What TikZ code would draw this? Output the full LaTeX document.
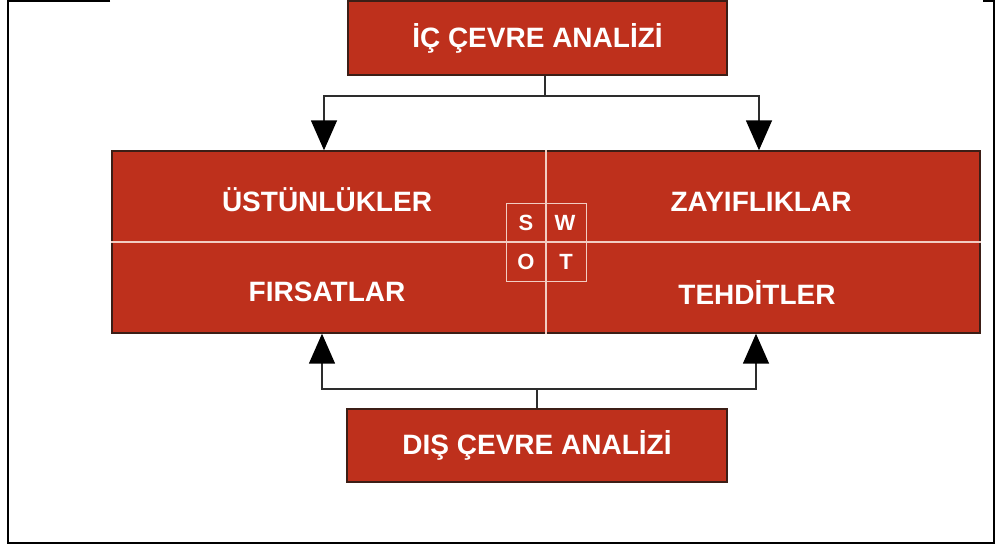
\documentclass[tikz,border=0pt]{standalone}
\usepackage{fontspec}
\setmainfont{Liberation Sans}
\usetikzlibrary{arrows.meta}
\definecolor{boxred}{RGB}{190,48,28}
\definecolor{boxedge}{RGB}{60,30,22}
\definecolor{divline}{RGB}{242,205,195}
\definecolor{connline}{RGB}{45,45,45}
\tikzset{
  redbox/.style={draw=boxedge, line width=1.4pt, fill=boxred, inner sep=0pt},
  label/.style={text=white, font=\fontsize{28}{28}\selectfont\bfseries, inner sep=0pt},
  letter/.style={text=white, font=\fontsize{22}{22}\selectfont\bfseries, inner sep=0pt},
  divider/.style={draw=divline, line width=1.6pt},
  conn/.style={draw=connline, line width=1.5pt},
  tip/.style={-{Triangle[width=26pt,length=30pt,color=black]}, line join=miter},
  frameline/.style={draw=black, line width=2pt}
}
\begin{document}
\begin{tikzpicture}[x=1pt,y=-1pt]
  \useasboundingbox (0,0) rectangle (997,544);

  % outer frame
  \draw[frameline] (110,1) -- (8,1) -- (8,543) -- (994,543) -- (994,1) -- (983,1);

  % analysis boxes
  \node[redbox, minimum width=379pt, minimum height=74pt] (ic) at (537.5,38) {};
  \node[label] at (ic.center) {İÇ ÇEVRE ANALİZİ};
  \node[redbox, minimum width=380pt, minimum height=73pt] (dis) at (537,445.5) {};
  \node[label] at (dis.center) {DIŞ ÇEVRE ANALİZİ};

  % SWOT matrix
  \node[redbox, minimum width=868pt, minimum height=182pt] (swot) at (546,242) {};
  \draw[divider] (swot.west) -- (swot.east);
  \draw[divider] (swot.north) -- (swot.south);
  \node[draw=divline, line width=1pt, minimum width=80pt, minimum height=78pt] (core) at (swot.center) {};

  \node[label] (s) at (327,200) {ÜSTÜNLÜKLER};
  \node[label] (w) at (761,202) {ZAYIFLIKLAR};
  \node[label] (o) at (327,292) {FIRSATLAR};
  \node[label] (t) at (757,293) {TEHDİTLER};

  \node[letter] (ls) at (526,223) {S};
  \node[letter] (lw) at (565,223) {W};
  \node[letter] (lo) at (526,262) {O};
  \node[letter] (lt) at (566,262) {T};

  % connectors from the internal analysis
  \coordinate (ijoin) at (545,96);
  \coordinate (ileft) at (324,96);
  \coordinate (iright) at (759,96);
  \draw[conn] (ic.south -| ijoin) -- (ijoin);
  \draw[conn, tip] (ijoin) -- (ileft) -- (ileft |- swot.north);
  \draw[conn, tip] (ijoin) -- (iright) -- (iright |- swot.north);

  % connectors from the external analysis
  \coordinate (djoin) at (537,389);
  \coordinate (dleft) at (322,389);
  \coordinate (dright) at (756,389);
  \draw[conn] (dis.north) -- (djoin);
  \draw[conn, tip] (djoin) -- (dleft) -- (dleft |- swot.south);
  \draw[conn, tip] (djoin) -- (dright) -- (dright |- swot.south);
\end{tikzpicture}
\end{document}
